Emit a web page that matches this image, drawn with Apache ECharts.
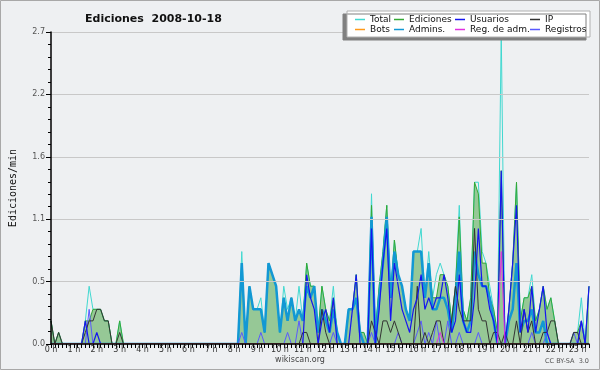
<!DOCTYPE html>
<html>
<head>
<meta charset="utf-8">
<script src="https://cdn.jsdelivr.net/npm/echarts@6/dist/echarts.min.js"></script>
<style>
html,body{margin:0;padding:0;background:#eef0f2;}
#chart{width:600px;height:370px;}
</style>
</head>
<body>
<div id="chart"></div>
<script>
// franjas de 10 minutos, 0:00 .. 23:30
var horas = [];
for (var h = 0; h < 142; h++) {
	horas.push(Math.floor(h / 6) + ':' + (h % 6) + '0');
}

// ediciones por minuto, una fila por hora (6 valores)
var total = [
	0.2,0,0.1,0,0,0,  0,0,0,0.2,0.5,0.3,  0.3,0.3,0.2,0.2,0,0,  0.2,0,0,0,0,0,
	0,0,0,0,0,0,  0,0,0,0,0,0,  0,0,0,0,0,0,  0,0,0,0,0,0,
	0,0,0.8,0,0.5,0.3,  0.3,0.4,0.1,0.7,0.6,0.5,  0.1,0.5,0.3,0.4,0.2,0.5,  0.2,0.7,0.5,0.5,0.1,0.5,
	0.3,0.2,0.5,0.1,0,0,  0.3,0.3,0.6,0.1,0.1,0,  1.3,0.1,0.5,0.8,1.2,0.4,  0.9,0.6,0.5,0.3,0.2,0.8,
	0.8,1.0,0.4,0.8,0.4,0.6,  0.7,0.6,0.5,0.2,0.5,1.2,  0.3,0.2,0.4,1.4,1.4,0.8,  0.7,0.5,0.3,0.1,2.7,0,
	0.3,0.7,1.4,0.2,0.4,0.4,  0.6,0.2,0.3,0.5,0.3,0.4,  0.2,0,0,0,0,0.1,  0.1,0.4,0,0.5
];
var ediciones = [
	0.2,0,0.1,0,0,0,  0,0,0,0.2,0.2,0.3,  0.3,0.3,0.2,0.2,0,0,  0.2,0,0,0,0,0,
	0,0,0,0,0,0,  0,0,0,0,0,0,  0,0,0,0,0,0,  0,0,0,0,0,0,
	0,0,0.7,0,0.5,0.3,  0.3,0.3,0.1,0.7,0.6,0.5,  0.1,0.4,0.2,0.4,0.2,0.3,  0.2,0.7,0.5,0.5,0.1,0.5,
	0.3,0.2,0.4,0.1,0,0,  0.3,0.3,0.6,0.1,0.1,0,  1.2,0.1,0.5,0.8,1.2,0.4,  0.9,0.6,0.5,0.3,0.2,0.8,
	0.8,0.8,0.4,0.7,0.4,0.4,  0.6,0.6,0.5,0.2,0.5,1.1,  0.3,0.2,0.4,1.4,1.3,0.7,  0.7,0.4,0.3,0.1,1.5,0,
	0.3,0.7,1.4,0.2,0.4,0.4,  0.5,0.2,0.3,0.5,0.3,0.4,  0.2,0,0,0,0,0.1,  0.1,0.2,0,0.5
];
var usuarios = [
	0,0,0,0,0,0,  0,0,0,0.2,0,0,  0.1,0,0,0,0,0,  0,0,0,0,0,0,
	0,0,0,0,0,0,  0,0,0,0,0,0,  0,0,0,0,0,0,  0,0,0,0,0,0,
	0,0,0,0,0,0,  0,0,0,0,0,0,  0,0,0,0,0,0,  0,0.6,0.4,0.3,0,0.2,
	0.3,0.1,0.4,0,0,0,  0,0.3,0.6,0,0,0,  1.0,0,0.3,0.7,1.0,0.2,  0.7,0.5,0.3,0.2,0.1,0.3,
	0.4,0.6,0.3,0.4,0.3,0.4,  0.4,0.6,0.4,0.1,0.2,0.6,  0.2,0.1,0.1,0.4,1.0,0.5,  0.5,0.3,0.2,0,1.5,0,
	0.3,0.7,1.2,0.1,0.3,0.1,  0.5,0.1,0.3,0.5,0.1,0,  0,0,0,0,0,0,  0,0.2,0,0.5
];
var ip = [
	0.2,0,0.1,0,0,0,  0,0,0,0.1,0.2,0.2,  0.3,0.3,0.2,0.2,0,0,  0.1,0,0,0,0,0,
	0,0,0,0,0,0,  0,0,0,0,0,0,  0,0,0,0,0,0,  0,0,0,0,0,0,
	0,0,0,0,0,0,  0,0,0,0,0,0,  0,0,0,0,0,0,  0.1,0.1,0,0,0,0.3,
	0.1,0,0,0,0,0,  0,0,0,0,0,0,  0.2,0.1,0,0.2,0.2,0.1,  0.2,0.1,0,0,0,0,
	0.5,0,0.1,0,0.1,0.2,  0.2,0,0,0.2,0.5,0.3,  0.2,0.2,0.2,1.0,0.3,0.2,  0.2,0,0.1,0.1,0,0.1,
	0,0,0.2,0,0.3,0.1,  0.2,0,0,0.1,0.1,0.2,  0.2,0,0,0,0,0.1,  0.1,0,0,0
];
var bots = [
	0,0,0,0,0,0,  0,0,0,0,0,0,  0,0,0,0,0,0,  0,0,0,0,0,0,
	0,0,0,0,0,0,  0,0,0,0,0,0,  0,0,0,0,0,0,  0,0,0,0,0,0,
	0,0,0,0,0,0,  0,0,0,0,0,0,  0,0,0,0,0,0,  0,0,0,0,0,0,
	0,0,0,0,0,0,  0,0,0,0,0,0,  0,0,0,0,0,0,  0,0,0,0,0,0,
	0,0,0,0,0,0,  0,0,0,0,0,0,  0,0,0,0,0,0,  0,0,0,0,0,0,
	0,0,0,0,0,0,  0,0,0,0,0,0,  0,0,0,0,0,0,  0,0,0,0
];
var admins = [
	0,0,0,0,0,0,  0,0,0,0,0,0,  0,0,0,0,0,0,  0,0,0,0,0,0,
	0,0,0,0,0,0,  0,0,0,0,0,0,  0,0,0,0,0,0,  0,0,0,0,0,0,
	0,0,0.7,0,0.5,0.3,  0.3,0.3,0.1,0.7,0.6,0.5,  0.1,0.4,0.2,0.4,0.2,0.3,  0.2,0.5,0.4,0.5,0.1,0.3,
	0.2,0.1,0.3,0.1,0,0,  0.3,0.3,0.4,0.1,0,0,  1.1,0,0.4,0.7,1.1,0.4,  0.8,0.6,0.5,0.3,0.2,0.8,
	0.8,0.8,0.4,0.7,0.3,0.3,  0.4,0.4,0.3,0.1,0.4,0.8,  0.2,0.1,0.2,0.8,0.6,0.5,  0.5,0.4,0.2,0,0,0,
	0.2,0.3,0.7,0.1,0.2,0.2,  0.3,0.1,0.1,0.2,0,0,  0,0,0,0,0,0,  0,0,0,0
];
var regAdm = [
	0,0,0,0,0,0,  0,0,0,0,0,0,  0,0,0,0,0,0,  0,0,0,0,0,0,
	0,0,0,0,0,0,  0,0,0,0,0,0,  0,0,0,0,0,0,  0,0,0,0,0,0,
	0,0,0,0,0,0,  0,0,0,0,0,0,  0,0,0,0,0,0,  0,0,0,0,0,0,
	0,0,0,0,0,0,  0,0,0,0,0,0,  0,0,0,0,0,0,  0,0,0,0,0,0,
	0,0,0,0,0,0,  0.1,0,0,0,0,0,  0,0,0,0,0,0,  0,0,0,0,0.8,0,
	0,0,0,0,0,0,  0,0,0,0,0,0,  0,0,0,0,0,0,  0,0,0,0
];
var registros = [
	0,0,0,0,0,0,  0,0,0,0,0.3,0,  0,0,0,0,0,0,  0,0,0,0,0,0,
	0,0,0,0,0,0,  0,0,0,0,0,0,  0,0,0,0,0,0,  0,0,0,0,0,0,
	0,0,0.1,0,0,0,  0,0.1,0,0,0,0,  0,0,0.1,0,0,0.2,  0,0,0,0,0,0,
	0,0,0.1,0,0,0,  0,0,0,0,0,0,  0.1,0,0,0,0,0,  0,0.1,0,0,0,0,
	0.1,0.2,0,0.1,0,0.2,  0,0,0.2,0,0,0.1,  0,0,0,0,0.1,0,  0,0,0,0,0,0,
	0,0,0,0,0,0,  0.1,0,0,0,0.1,0,  0,0,0,0,0,0.1,  0,0.2,0,0
];

var myChart = echarts.init(document.getElementById('chart'));

//serie de linea comun
function linea(nombre, datos, color, ancho) {
	return {
		name: nombre,
		type: 'line',
		data: datos,
		symbol: 'none',
		itemStyle: { color: color },
		lineStyle: { color: color, width: ancho },
		animation: false
	};
}

var serieEd = linea('Ediciones', ediciones, '#34a834', 1);
serieEd.areaStyle = { color: '#96c896', opacity: 1 };

//leyenda: 4 columnas de 2 filas
function columna(left, nombres) {
	return {
		orient: 'vertical',
		left: left,
		top: 14.5,
		padding: 0,
		z: 102,
		icon: 'rect',
		itemWidth: 10,
		itemHeight: 1.5,
		itemGap: 0,
		itemTextGap: 4,
		selectedMode: false,
		textStyle: { fontFamily: 'DejaVu Sans', fontSize: 9, color: '#111', lineHeight: 10 },
		data: nombres
	};
}

var option = {
	backgroundColor: '#eef0f2',
	animation: false,
	title: {
		text: 'Ediciones  2008-10-18',
		left: 80,
		top: 9,
		textStyle: { fontFamily: 'DejaVu Sans', fontSize: 11, fontWeight: 'bold', color: '#111' }
	},
	legend: [
		columna(355, ['Total', 'Bots']),
		columna(394, ['Ediciones', 'Admins.']),
		columna(455, ['Usuarios', 'Reg. de adm.']),
		columna(530, ['IP', 'Registros'])
	],
	grid: { left: 46, right: 11, top: 32, bottom: 26 },
	xAxis: {
		type: 'category',
		data: horas,
		boundaryGap: false,
		z: 10,
		axisLine: { lineStyle: { color: '#000', width: 1.5 } },
		axisTick: { interval: 0, length: 4, lineStyle: { color: '#000' } },
		axisLabel: {
			interval: 5,
			margin: 2,
			fontFamily: 'DejaVu Sans',
			fontSize: 8,
			color: '#333',
			formatter: function(v) { return parseInt(v, 10) + ' h'; }
		},
		splitLine: { show: false }
	},
	yAxis: {
		type: 'value',
		min: 0,
		max: 2.7,
		interval: 0.54,
		z: 10,
		name: 'Ediciones/min',
		nameLocation: 'middle',
		nameGap: 33,
		nameTextStyle: { fontFamily: 'DejaVu Sans Mono', fontSize: 10, color: '#111' },
		axisLine: { show: true, lineStyle: { color: '#000', width: 1.5 } },
		axisTick: { show: true, length: 5, lineStyle: { color: '#000' } },
		minorTick: { show: true, splitNumber: 5, length: 3, lineStyle: { color: '#000' } },
		axisLabel: {
			margin: 6,
			fontFamily: 'DejaVu Sans',
			fontSize: 8,
			color: '#555',
			formatter: function(v) { return v.toFixed(1); }
		},
		splitLine: { lineStyle: { color: '#c8c8c8', width: 1 } }
	},
	series: [
		linea('Total', total, '#40d8d0', 1),
		serieEd,
		linea('Admins.', admins, '#1298d4', 2.5),
		linea('Registros', registros, '#5a5aff', 1),
		linea('IP', ip, '#333333', 1),
		linea('Usuarios', usuarios, '#1515f0', 1.2),
		linea('Reg. de adm.', regAdm, '#e030e0', 1),
		linea('Bots', bots, '#ff9a1a', 1)
	],
	graphic: [
		{
			type: 'rect', z: 100,
			shape: { x: 347, y: 11, width: 243, height: 26 },
			style: { fill: '#fff', stroke: '#b0b0b0', lineWidth: 1,
				shadowColor: '#808080', shadowOffsetX: -4, shadowOffsetY: 3, shadowBlur: 0 }
		},
		{
			type: 'text', z: 100, left: 'center', top: 356,
			style: { text: 'wikiscan.org', fontFamily: 'DejaVu Sans', fontSize: 8, fill: '#444' }
		},
		{
			type: 'text', z: 100, right: 11, top: 358,
			style: { text: 'CC BY-SA  3.0', fontFamily: 'DejaVu Sans', fontSize: 6.5, fill: '#555' }
		},
		{
			type: 'rect', z: 100, silent: true,
			shape: { x: 0.5, y: 0.5, width: 599, height: 369 },
			style: { fill: 'none', stroke: '#a8a8a8', lineWidth: 1 }
		}
	]
};

myChart.setOption(option);
</script>
</body>
</html>
